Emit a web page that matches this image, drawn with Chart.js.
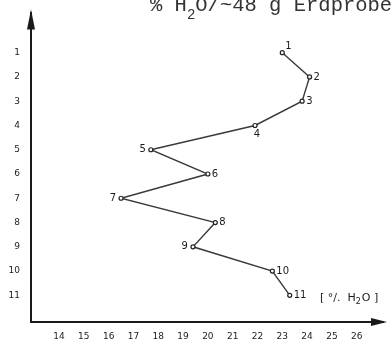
<!DOCTYPE html>
<html>
<head>
<meta charset="utf-8">
<script src="https://cdn.jsdelivr.net/npm/chart.js@4/dist/chart.umd.min.js"></script>
<style>
  html, body { margin: 0; padding: 0; background: #fff; }
  #wrap { width: 392px; height: 351px; position: relative; }
</style>
</head>
<body>
<div id="wrap"><canvas id="chart"></canvas></div>
<script>
// Probe numbers (depth rows) and water content in % H2O
const probes = [1, 2, 3, 4, 5, 6, 7, 8, 9, 10, 11];
const water = [23.0, 24.1, 23.8, 21.9, 17.7, 20.0, 16.5, 20.3, 19.4, 22.6, 23.3];
const xTicks = [14, 15, 16, 17, 18, 19, 20, 21, 22, 23, 24, 25, 26];
const yTicks = [1, 2, 3, 4, 5, 6, 7, 8, 9, 10, 11];

// where each point's number sits relative to the point
const labelSide = ['ur', 'r', 'r', 'b', 'l', 'r', 'l', 'r', 'l', 'r', 'r'];

const ink = '#1a1a1a';

// draws the arrows, point numbers, title and unit label
const annotate = {
  id: 'annotate',
  afterDraw(chart) {
    const ctx = chart.ctx;
    const area = chart.chartArea;
    const xs = chart.scales.x;
    const ys = chart.scales.y;
    ctx.save();
    ctx.fillStyle = ink;
    ctx.strokeStyle = ink;

    // y axis arrow
    ctx.beginPath();
    ctx.moveTo(area.left, area.top - 4);
    ctx.lineTo(area.left - 4, area.top + 16);
    ctx.lineTo(area.left + 4, area.top + 16);
    ctx.closePath();
    ctx.fill();

    // x axis arrow
    ctx.beginPath();
    ctx.moveTo(area.right + 4, area.bottom);
    ctx.lineTo(area.right - 12, area.bottom - 4);
    ctx.lineTo(area.right - 12, area.bottom + 4);
    ctx.closePath();
    ctx.fill();

    // point numbers
    ctx.font = '10px "DejaVu Sans"';
    ctx.textBaseline = 'middle';
    probes.forEach((p, i) => {
      const px = xs.getPixelForValue(water[i]);
      const py = ys.getPixelForValue(p);
      const side = labelSide[i];
      if (side === 'l') {
        ctx.textAlign = 'right';
        ctx.fillText(String(p), px - 5, py);
      } else if (side === 'b') {
        ctx.textAlign = 'center';
        ctx.fillText(String(p), px + 2, py + 9);
      } else if (side === 'ur') {
        ctx.textAlign = 'left';
        ctx.fillText(String(p), px + 3, py - 6);
      } else {
        ctx.textAlign = 'left';
        ctx.fillText(String(p), px + 4, py);
      }
    });

    // title (typewriter, cut off at the top edge)
    ctx.textAlign = 'left';
    ctx.textBaseline = 'alphabetic';
    ctx.fillStyle = '#333';
    ctx.font = '20.5px "Liberation Mono"';
    let tx = 150;
    const ty = 11;
    ctx.fillText('% H', tx, ty);
    tx += ctx.measureText('% H').width;
    ctx.font = '14px "Liberation Mono"';
    ctx.fillText('2', tx, ty + 8);
    tx += ctx.measureText('2').width;
    ctx.font = '20.5px "Liberation Mono"';
    ctx.fillText('O/~48 g Erdprobe', tx, ty);

    // unit label
    ctx.fillStyle = ink;
    ctx.font = '11px "DejaVu Sans"';
    let ux = 320;
    const uy = 301;
    ctx.fillText('[ °/.  H', ux, uy);
    ux += ctx.measureText('[ °/.  H').width;
    ctx.font = '8px "DejaVu Sans"';
    ctx.fillText('2', ux, uy + 3);
    ux += ctx.measureText('2').width + 1;
    ctx.font = '11px "DejaVu Sans"';
    ctx.fillText('O ]', ux, uy);

    ctx.restore();
  }
};

new Chart(document.getElementById('chart'), {
  type: 'scatter',
  data: {
    datasets: [{
      data: probes.map((p, i) => ({ x: water[i], y: p })),
      showLine: true,
      borderColor: '#3a3a3a',
      borderWidth: 1.4,
      pointRadius: 2,
      pointBackgroundColor: '#fff',
      pointBorderColor: '#222',
      pointBorderWidth: 1.2,
      tension: 0
    }]
  },
  options: {
    responsive: true,
    maintainAspectRatio: false,
    animation: false,
    layout: { padding: { top: 8, right: 9, left: 0, bottom: 0 } },
    plugins: {
      legend: { display: false },
      tooltip: { enabled: false }
    },
    scales: {
      x: {
        type: 'linear',
        min: 12.87,
        max: 27.06,
        afterBuildTicks: (scale) => { scale.ticks = xTicks.map(v => ({ value: v })); },
        afterFit: (scale) => { scale.height = 29; },
        grid: { display: false, drawTicks: true, tickLength: 3, color: ink },
        border: { display: true, color: ink, width: 2 },
        ticks: {
          color: '#222',
          font: { family: 'DejaVu Sans', size: 9 },
          padding: 6,
          maxRotation: 0,
          autoSkip: false
        }
      },
      y: {
        type: 'linear',
        reverse: true,
        min: -0.62,
        max: 12.1,
        afterBuildTicks: (scale) => { scale.ticks = yTicks.map(v => ({ value: v })); },
        afterFit: (scale) => { scale.width = 31; },
        grid: { display: false, drawTicks: true, tickLength: 3, color: ink },
        border: { display: true, color: ink, width: 2 },
        ticks: {
          color: '#222',
          font: { family: 'DejaVu Sans', size: 9 },
          padding: 8,
          autoSkip: false
        }
      }
    }
  },
  plugins: [annotate]
});
</script>
</body>
</html>
